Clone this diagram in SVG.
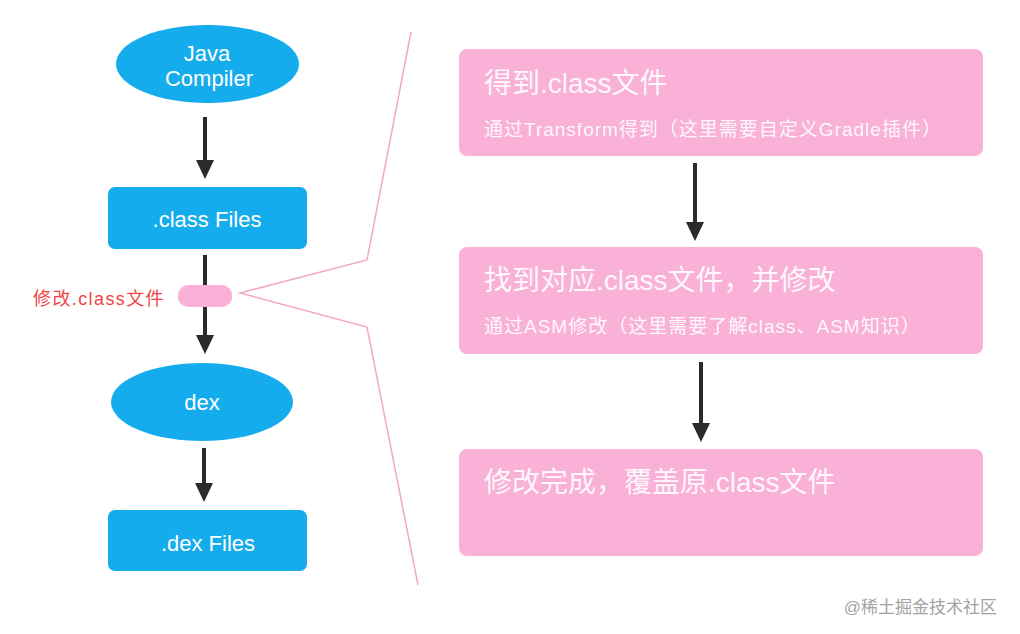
<svg xmlns="http://www.w3.org/2000/svg" width="1020" height="634" viewBox="0 0 1020 634">
<defs>
<style>
.blue{fill:#14acec}
.pink{fill:#f9b1d7}
.wt{fill:#ffffff;font-family:"Liberation Sans","Noto Sans CJK SC",sans-serif;text-anchor:middle;font-size:22px}
.pt{fill:#ffffff;fill-opacity:0.92;font-family:"Liberation Sans","Noto Sans CJK SC",sans-serif}
.ttl{font-size:28px}
.sub{font-size:19px;letter-spacing:1px}
.arr{stroke:#2b2b2b;stroke-width:4;fill:none}
.head{fill:#2b2b2b}
</style>
</defs>
<rect width="1020" height="634" fill="#ffffff"/>
<g id="connectors">
<line class="arr" x1="205" y1="117" x2="205" y2="162"/>
<polygon class="head" points="196,160 214,160 205,179"/>
<line class="arr" x1="205" y1="255" x2="205" y2="337"/>
<polygon class="head" points="196,335 214,335 205,354"/>
<line class="arr" x1="204" y1="448" x2="204" y2="485"/>
<polygon class="head" points="195,483 213,483 204,502"/>
<line class="arr" x1="695" y1="163" x2="695" y2="224"/>
<polygon class="head" points="686,222 704,222 695,241"/>
<line class="arr" x1="701" y1="362" x2="701" y2="425"/>
<polygon class="head" points="692,423 710,423 701,442"/>
<polyline points="411,32 367,260 240,293 367,327 418,585" fill="none" stroke="#f4a6c8" stroke-width="1.5"/>
</g>
<g id="java-compiler">
<ellipse class="blue" cx="207.5" cy="64" rx="91.5" ry="39"/>
<text class="wt" x="207" y="61" font-size="21">Java</text>
<text class="wt" x="209" y="86" font-size="21">Compiler</text>
</g>
<g id="class-files">
<rect class="blue" x="108" y="187" width="199" height="62" rx="7"/>
<text class="wt" x="207" y="227">.class Files</text>
</g>
<g id="modify-marker">
<rect class="pink" x="178" y="285" width="54" height="22" rx="10"/>
<text x="165" y="305" fill="#ef4545" font-family="Liberation Sans,'Noto Sans CJK SC',sans-serif" font-size="18" letter-spacing="1.4" text-anchor="end">修改.class文件</text>
</g>
<g id="dex">
<ellipse class="blue" cx="202" cy="402" rx="91" ry="39"/>
<text class="wt" x="202" y="410">dex</text>
</g>
<g id="dex-files">
<rect class="blue" x="108" y="510" width="199" height="61" rx="7"/>
<text class="wt" x="208" y="551">.dex Files</text>
</g>
<g id="step1">
<rect class="pink" x="459" y="49" width="524" height="107" rx="8"/>
<text class="pt ttl" x="484" y="93">得到.class文件</text>
<text class="pt sub" x="484" y="136">通过Transform得到（这里需要自定义Gradle插件）</text>
</g>
<g id="step2">
<rect class="pink" x="459" y="247" width="524" height="107" rx="8"/>
<text class="pt ttl" x="484" y="290">找到对应.class文件，并修改</text>
<text class="pt sub" x="484" y="333">通过ASM修改（这里需要了解class、ASM知识）</text>
</g>
<g id="step3">
<rect class="pink" x="459" y="449" width="524" height="107" rx="8"/>
<text class="pt ttl" x="484" y="492">修改完成，覆盖原.class文件</text>
</g>
<text x="997" y="613" fill="#a3a3a3" font-family="Liberation Sans,'Noto Sans CJK SC',sans-serif" font-size="17" text-anchor="end">@稀土掘金技术社区</text>
</svg>
